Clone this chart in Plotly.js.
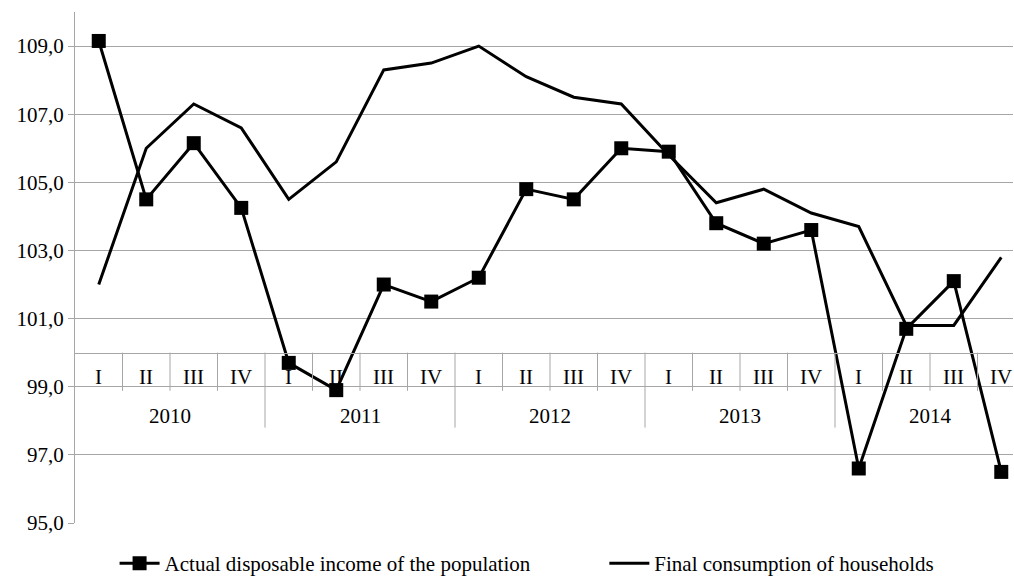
<!DOCTYPE html>
<html>
<head>
<meta charset="utf-8">
<script src="https://cdn.plot.ly/plotly-3.0.1.min.js"></script>
<style>html,body{margin:0;padding:0;background:#fff;}#chart{width:1014px;height:584px;}</style>
</head>
<body>
<div id="chart"></div>
<script>
// ---- data ----
const years = ["2010", "2011", "2012", "2013", "2014"];
const quarters = ["I", "II", "III", "IV"];
const incomeName = "Actual disposable income of the population";
const consumptionName = "Final consumption of households";
const income = [109.15, 104.5, 106.15, 104.25, 99.7, 98.9, 102.0, 101.5, 102.2, 104.8,
                104.5, 106.0, 105.9, 103.8, 103.2, 103.6, 96.6, 100.7, 102.1, 96.5];
const consumption = [102.0, 106.0, 107.3, 106.6, 104.5, 105.6, 108.3, 108.5, 109.0, 108.1,
                     107.5, 107.3, 105.8, 104.4, 104.8, 104.1, 103.7, 100.8, 100.8, 102.8];
const yTicks = [95, 97, 99, 101, 103, 105, 107, 109];

// ---- build categories ----
const catLabels = [];
years.forEach(y => quarters.forEach(q => catLabels.push({year: y, q: q})));
const xIdx = catLabels.map((_, i) => i);
const nQ = quarters.length;

const FONT = "Times New Roman";
const GRID = "#a6a6a6";
const AXIS_Y = 100;

const shapes = [];
const annotations = [];
catLabels.forEach((c, i) => {
  annotations.push({x: i, y: 99.3, xref: "x", yref: "y", text: c.q, showarrow: false,
    xanchor: "center", yanchor: "middle", font: {family: FONT, size: 21, color: "#000"}});
  if (i > 0) {
    const yearBoundary = (i % nQ === 0);
    shapes.push({type: "line", xref: "x", yref: "y", x0: i - 0.5, x1: i - 0.5,
      y0: AXIS_Y, y1: yearBoundary ? 97.8 : 98.88, line: {color: GRID, width: 1}});
  }
});
years.forEach((y, k) => {
  annotations.push({x: k * nQ + (nQ - 1) / 2, y: 98.15, xref: "x", yref: "y", text: y, showarrow: false,
    xanchor: "center", yanchor: "middle", font: {family: FONT, size: 21, color: "#000"}});
});

const traces = [
  {x: xIdx, y: income, name: incomeName, type: "scatter", mode: "lines+markers", legend: "legend",
   line: {color: "#000", width: 3}, marker: {symbol: "square", size: 14, color: "#000"}},
  {x: xIdx, y: consumption, name: consumptionName, type: "scatter", mode: "lines", legend: "legend2",
   line: {color: "#000", width: 3}}
];

const legendBase = {orientation: "h", yref: "container", y: -0.01, yanchor: "bottom",
  xref: "container", xanchor: "left", itemwidth: 40,
  font: {family: FONT, size: 21, color: "#000"}, bgcolor: "rgba(0,0,0,0)"};

const layout = {
  width: 1014, height: 584,
  margin: {l: 75, r: 1, t: 12, b: 61},
  paper_bgcolor: "#fff", plot_bgcolor: "#fff",
  separators: ", ",
  font: {family: FONT, size: 20, color: "#000"},
  showlegend: true,
  legend: Object.assign({}, legendBase, {x: 0.113}),
  legend2: Object.assign({}, legendBase, {x: 0.596}),
  xaxis: {range: [-0.5, 19.247], showgrid: false, zeroline: false, showticklabels: false,
    ticks: "", showline: true, linecolor: GRID, linewidth: 1,
    anchor: "free", position: (AXIS_Y - 95) / 15, fixedrange: true},
  yaxis: {range: [95, 110], tickvals: yTicks, tickformat: ".1f", showgrid: true, gridcolor: GRID,
    gridwidth: 1, zeroline: false, showline: true, linecolor: GRID, linewidth: 1,
    ticks: "outside", ticklen: 6, tickcolor: GRID, tickfont: {family: FONT, size: 21, color: "#000"},
    fixedrange: true},
  shapes: shapes,
  annotations: annotations
};

Plotly.newPlot("chart", traces, layout, {displayModeBar: false, staticPlot: true});
</script>
</body>
</html>
